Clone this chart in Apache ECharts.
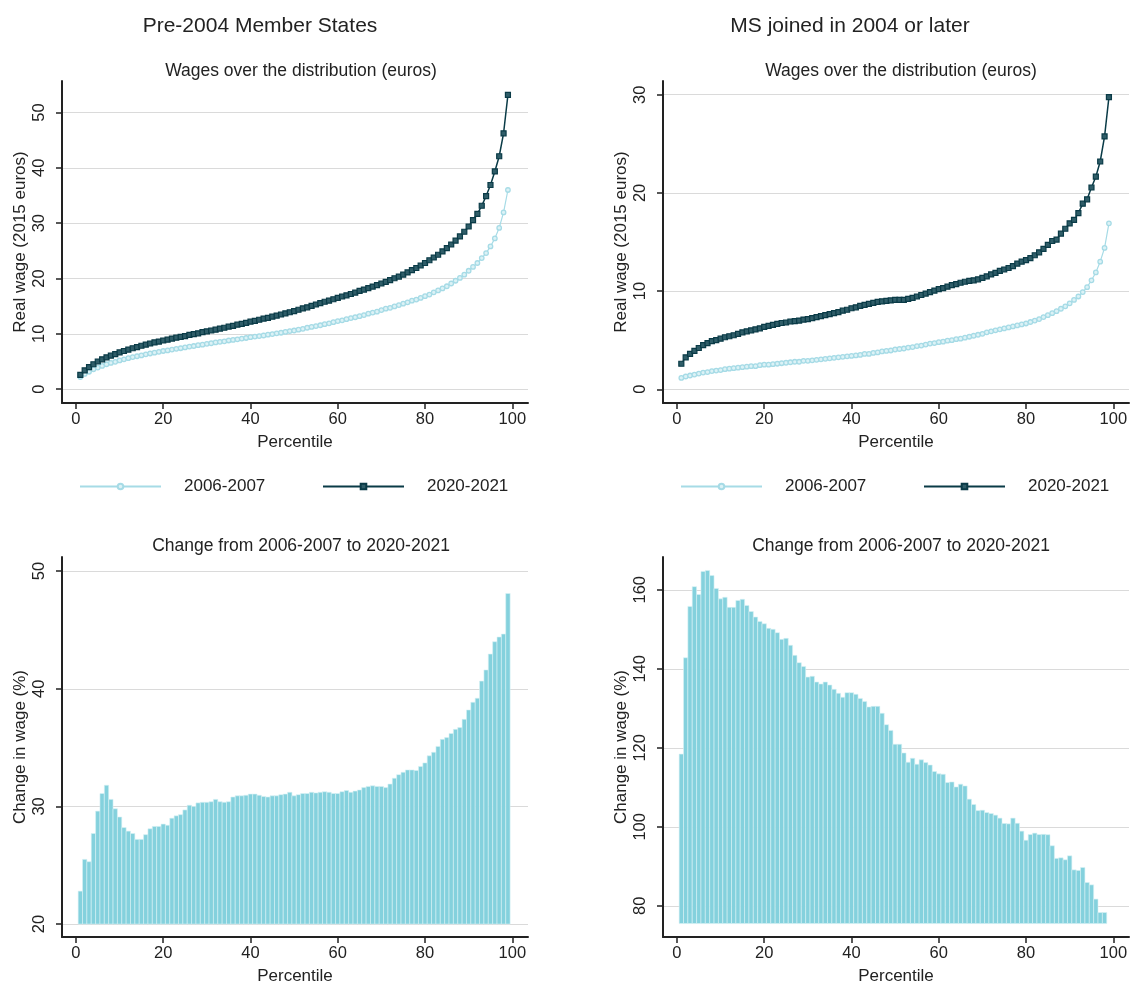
<!DOCTYPE html>
<html lang="en">
<head>
    <meta charset="UTF-8">
    <title>Wages over the distribution</title>
    <script src="https://cdn.jsdelivr.net/npm/echarts@6/dist/echarts.min.js"></script>
</head>
<body style="margin:0;background:#fff;">
<div id="box" style="width: 1136px;height: 987px;"></div>
<script>
    // percentiles 1..99
    var percentiles = [];
    for (var i = 1; i <= 99; i++) percentiles.push(i);

    // Pre-2004 Member States, real wage (2015 euros)
    var old0607 = [2.2, 2.75, 3.15, 3.6, 3.9, 4.2, 4.5, 4.75, 4.95, 5.2,
        5.4, 5.6, 5.8, 5.95, 6.1, 6.3, 6.45, 6.6, 6.75, 6.9,
        7.0, 7.15, 7.3, 7.4, 7.55, 7.7, 7.8, 7.95, 8.05, 8.2,
        8.3, 8.45, 8.55, 8.65, 8.8, 8.9, 9.0, 9.15, 9.25, 9.4,
        9.5, 9.6, 9.7, 9.85, 9.95, 10.1, 10.2, 10.35, 10.5, 10.6,
        10.75, 10.9, 11.1, 11.25, 11.4, 11.55, 11.75, 11.9, 12.1, 12.3,
        12.45, 12.65, 12.85, 13.0, 13.2, 13.4, 13.65, 13.85, 14.0, 14.3,
        14.55, 14.7, 14.95, 15.2, 15.45, 15.7, 16.0, 16.2, 16.5, 16.8,
        17.1, 17.5, 17.85, 18.2, 18.6, 19.1, 19.6, 20.1, 20.7, 21.4,
        22.1, 22.8, 23.7, 24.6, 25.8, 27.25, 29.15, 31.95, 36.0];
    var old2021 = [2.6, 3.4, 4.0, 4.5, 5.0, 5.4, 5.75, 6.05, 6.35, 6.65,
        6.9, 7.15, 7.4, 7.6, 7.85, 8.05, 8.25, 8.45, 8.6, 8.8,
        8.95, 9.15, 9.3, 9.45, 9.6, 9.8, 9.95, 10.1, 10.3, 10.45,
        10.6, 10.75, 10.95, 11.1, 11.3, 11.45, 11.65, 11.8, 12.0, 12.2,
        12.35, 12.55, 12.75, 12.9, 13.1, 13.3, 13.5, 13.7, 13.9, 14.1,
        14.35, 14.6, 14.8, 15.05, 15.3, 15.55, 15.8, 16.0, 16.25, 16.5,
        16.75, 16.95, 17.2, 17.45, 17.75, 18.0, 18.25, 18.55, 18.8, 19.1,
        19.4, 19.7, 20.05, 20.35, 20.7, 21.1, 21.5, 21.9, 22.35, 22.8,
        23.3, 23.8, 24.3, 24.9, 25.5, 26.15, 26.85, 27.6, 28.45, 29.4,
        30.55, 31.7, 33.15, 34.9, 36.9, 39.35, 42.1, 46.25, 53.2];

    // MS joined in 2004 or later, real wage (2015 euros)
    var new0607 = [1.15, 1.3, 1.4, 1.5, 1.6, 1.7, 1.75, 1.85, 1.9, 1.95,
        2.05, 2.1, 2.15, 2.2, 2.25, 2.3, 2.35, 2.35, 2.45, 2.5,
        2.5, 2.55, 2.6, 2.65, 2.7, 2.75, 2.8, 2.8, 2.9, 2.9,
        2.95, 3.0, 3.05, 3.1, 3.15, 3.2, 3.25, 3.3, 3.35, 3.4,
        3.45, 3.5, 3.6, 3.6, 3.7, 3.75, 3.85, 3.9, 3.95, 4.05,
        4.1, 4.15, 4.25, 4.3, 4.4, 4.45, 4.55, 4.65, 4.7, 4.8,
        4.85, 4.95, 5.0, 5.1, 5.15, 5.25, 5.35, 5.45, 5.55, 5.65,
        5.8, 5.9, 6.0, 6.1, 6.2, 6.3, 6.4, 6.5, 6.6, 6.7,
        6.85, 7.0, 7.15, 7.35, 7.55, 7.75, 7.95, 8.2, 8.45, 8.75,
        9.1, 9.45, 9.9, 10.4, 11.1, 11.9, 13.0, 14.4, 16.9];
    var new2021 = [2.6, 3.25, 3.6, 3.9, 4.2, 4.5, 4.7, 4.9, 5.0, 5.15,
        5.3, 5.4, 5.5, 5.65, 5.8, 5.9, 6.0, 6.1, 6.2, 6.35,
        6.45, 6.55, 6.65, 6.75, 6.8, 6.9, 6.95, 7.0, 7.1, 7.15,
        7.25, 7.35, 7.45, 7.55, 7.65, 7.75, 7.85, 8.0, 8.1, 8.25,
        8.35, 8.5, 8.6, 8.7, 8.8, 8.9, 8.95, 9.0, 9.05, 9.1,
        9.1, 9.1, 9.2, 9.3, 9.45, 9.6, 9.75, 9.9, 10.05, 10.2,
        10.3, 10.45, 10.6, 10.7, 10.85, 10.95, 11.05, 11.1, 11.2, 11.35,
        11.5, 11.7, 11.85, 12.05, 12.2, 12.35, 12.55, 12.8, 13.0, 13.15,
        13.35, 13.65, 13.95, 14.3, 14.7, 15.1, 15.25, 15.85, 16.35, 16.9,
        17.25, 17.95, 18.9, 19.35, 20.55, 21.65, 23.2, 25.75, 29.75];

    // change in wage (%) from 2006-2007 to 2020-2021
    var oldChange = [22.8, 25.5, 25.3, 27.7, 29.6, 31.1, 31.8, 30.6, 29.8, 29.1,
        28.2, 27.9, 27.7, 27.2, 27.2, 27.6, 28.1, 28.3, 28.3, 28.5,
        28.4, 29.0, 29.2, 29.3, 29.7, 30.1, 30.0, 30.3, 30.35, 30.35,
        30.4, 30.6, 30.4, 30.35, 30.4, 30.8, 30.9, 30.9, 30.95, 31.05,
        31.05, 30.95, 30.85, 30.8, 30.9, 30.9, 31.0, 31.05, 31.2, 30.9,
        31.0, 31.1, 31.1, 31.2, 31.15, 31.2, 31.25, 31.2, 31.1, 31.1,
        31.25, 31.35, 31.2, 31.3, 31.4, 31.6, 31.7, 31.75, 31.7, 31.7,
        31.6, 31.9, 32.4, 32.7, 32.9, 33.1, 33.1, 33.05, 33.4, 33.7,
        34.3, 34.6, 35.1, 35.7, 35.85, 36.2, 36.55, 36.7, 37.4, 38.2,
        38.85, 39.2, 40.65, 41.6, 42.95, 44.0, 44.4, 44.65, 48.1];
    var newChange = [118.4, 142.8, 155.8, 160.8, 158.8, 164.65, 164.9, 163.6, 160.35, 157.7,
        158.1, 155.55, 155.55, 157.3, 157.6, 156.05, 154.5, 153.1, 152.0, 151.4,
        150.25, 150.0, 149.15, 147.45, 147.7, 145.95, 143.4, 141.55, 140.6, 137.9,
        138.1, 136.65, 136.15, 136.65, 135.9, 134.8, 133.8, 132.8, 133.95, 133.95,
        133.55, 132.5, 131.75, 130.35, 130.5, 130.5, 128.75, 125.85, 124.4, 120.9,
        120.9, 118.7, 116.35, 117.35, 115.85, 116.95, 116.25, 115.65, 114.0, 113.4,
        113.3, 111.2, 111.35, 110.1, 110.8, 110.35, 107.0, 105.65, 104.1, 104.2,
        103.6, 103.35, 102.95, 102.2, 100.85, 100.75, 102.2, 100.9, 98.9, 96.6,
        98.05, 98.4, 98.05, 98.1, 98.0, 95.2, 92.0, 92.15, 91.65, 92.65,
        89.1, 88.95, 89.7, 85.9, 85.3, 81.7, 78.3, 78.3];

    var xTicks = [0, 20, 40, 60, 80, 100];
    var yTicksOld = [0, 10, 20, 30, 40, 50];
    var yTicksNew = [0, 10, 20, 30];
    var yTicksOldChg = [20, 30, 40, 50];
    var yTicksNewChg = [80, 100, 120, 140, 160];

    var FONT = 'Liberation Sans';
    var INK = '#222';
    var LIGHT = '#a6dbe6';
    var DARK = '#0a3b47';
    var BAR = '#84d1dd';

    function pairs(vals) {
        return vals.map(function (v, i) { return [percentiles[i], v]; });
    }

    function xAxisOf(gi) {
        return {
            type: 'value', gridIndex: gi, min: -3.2, max: 103.6,
            name: 'Percentile', nameLocation: 'middle', nameGap: 31,
            nameTextStyle: {fontFamily: FONT, fontSize: 17, color: INK},
            axisLine: {onZero: false, lineStyle: {color: INK, width: 2}},
            axisTick: {customValues: xTicks, length: 6, lineStyle: {color: INK, width: 1.5}},
            axisLabel: {customValues: xTicks, fontFamily: FONT, fontSize: 16.5, color: INK, margin: 8},
            splitLine: {show: false}
        };
    }

    function yAxisOf(gi, lo, hi, ticks, title) {
        return {
            type: 'value', gridIndex: gi, min: lo, max: hi,
            name: title, nameLocation: 'middle', nameRotate: 90, nameGap: 33,
            nameTextStyle: {fontFamily: FONT, fontSize: 17, color: INK},
            axisLine: {onZero: false, lineStyle: {color: INK, width: 2}},
            axisTick: {customValues: ticks, length: 6, lineStyle: {color: INK, width: 1.5}},
            axisLabel: {customValues: ticks, rotate: 90, fontFamily: FONT, fontSize: 16.5, color: INK, margin: 14},
            splitLine: {show: false}
        };
    }

    function gridLines(gi, ticks) {
        return {
            type: 'line', xAxisIndex: gi, yAxisIndex: gi, data: [], z: 0, silent: true,
            markLine: {
                z: 0, silent: true, symbol: ['none', 'none'], label: {show: false},
                lineStyle: {color: '#dadada', width: 1, type: 'solid'},
                data: ticks.map(function (t) { return {yAxis: t}; })
            }
        };
    }

    function lightLine(gi, vals) {
        return {
            name: '2006-2007', type: 'line', xAxisIndex: gi, yAxisIndex: gi, z: 3,
            data: pairs(vals), symbol: 'circle', symbolSize: 4.5,
            lineStyle: {color: LIGHT, width: 1.2},
            itemStyle: {color: '#dcf2f6', borderColor: LIGHT, borderWidth: 1.3}
        };
    }

    function darkLine(gi, vals) {
        return {
            name: '2020-2021', type: 'line', xAxisIndex: gi, yAxisIndex: gi, z: 4,
            data: pairs(vals), symbol: 'rect', symbolSize: 5,
            lineStyle: {color: DARK, width: 1.5},
            itemStyle: {color: '#2f5d68', borderColor: DARK, borderWidth: 1.2}
        };
    }

    function bars(gi, vals, base) {
        return {
            type: 'custom', xAxisIndex: gi, yAxisIndex: gi, z: 3,
            data: pairs(vals),
            renderItem: function (params, api) {
                var x = api.value(0), v = api.value(1);
                var p1 = api.coord([x - 0.5, v]);
                var p2 = api.coord([x + 0.5, base]);
                return {
                    type: 'rect',
                    shape: {x: p1[0], y: p1[1], width: p2[0] - p1[0], height: p2[1] - p1[1]},
                    style: {fill: BAR, stroke: '#d9f1f5', lineWidth: 0.6}
                };
            }
        };
    }

    function legendItem(name, left) {
        return {
            data: [name], left: left, top: 478, padding: 0, orient: 'horizontal',
            itemWidth: 81, itemHeight: 7, selectedMode: false,
            textStyle: {fontFamily: FONT, fontSize: 17, color: INK, padding: [0, 0, 0, 18]}
        };
    }

    var titleFont = {fontFamily: FONT, fontWeight: 'normal', color: INK};

    var myChart = echarts.init(document.getElementById('box'));
    var option = {
        animation: false,
        backgroundColor: '#fff',
        title: [
            {text: 'Pre-2004 Member States', left: 255, top: 11, textAlign: 'center',
                textStyle: Object.assign({fontSize: 21}, titleFont)},
            {text: 'MS joined in 2004 or later', left: 845, top: 11, textAlign: 'center',
                textStyle: Object.assign({fontSize: 21}, titleFont)},
            {text: 'Wages over the distribution (euros)', left: 296, top: 57, textAlign: 'center',
                textStyle: Object.assign({fontSize: 17.5}, titleFont)},
            {text: 'Wages over the distribution (euros)', left: 896, top: 57, textAlign: 'center',
                textStyle: Object.assign({fontSize: 17.5}, titleFont)},
            {text: 'Change from 2006-2007 to 2020-2021', left: 296, top: 532, textAlign: 'center',
                textStyle: Object.assign({fontSize: 17.5}, titleFont)},
            {text: 'Change from 2006-2007 to 2020-2021', left: 896, top: 532, textAlign: 'center',
                textStyle: Object.assign({fontSize: 17.5}, titleFont)}
        ],
        legend: [
            legendItem('2006-2007', 79),
            legendItem('2020-2021', 322),
            legendItem('2006-2007', 680),
            legendItem('2020-2021', 923)
        ],
        grid: [
            {left: 62, top: 81, width: 466, height: 322},
            {left: 663, top: 81, width: 466, height: 322},
            {left: 62, top: 557, width: 466, height: 380},
            {left: 663, top: 557, width: 466, height: 380}
        ],
        xAxis: [xAxisOf(0), xAxisOf(1), xAxisOf(2), xAxisOf(3)],
        yAxis: [
            yAxisOf(0, -2.5, 55.7, yTicksOld, 'Real wage (2015 euros)'),
            yAxisOf(1, -1.4, 31.4, yTicksNew, 'Real wage (2015 euros)'),
            yAxisOf(2, 18.9, 51.2, yTicksOldChg, 'Change in wage (%)'),
            yAxisOf(3, 72.1, 168.3, yTicksNewChg, 'Change in wage (%)')
        ],
        series: [
            gridLines(0, yTicksOld), lightLine(0, old0607), darkLine(0, old2021),
            gridLines(1, yTicksNew), lightLine(1, new0607), darkLine(1, new2021),
            gridLines(2, yTicksOldChg), bars(2, oldChange, 20),
            gridLines(3, yTicksNewChg), bars(3, newChange, 75.5)
        ]
    };
    myChart.setOption(option);
</script>
</body>
</html>
